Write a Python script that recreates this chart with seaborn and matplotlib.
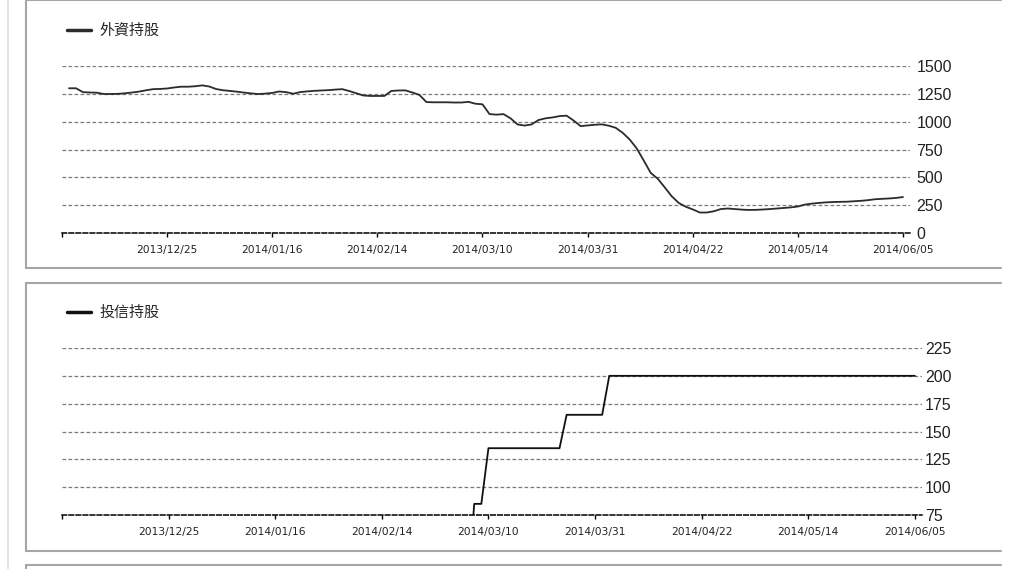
import numpy as np
import matplotlib
matplotlib.use("Agg")
import matplotlib.pyplot as plt
import seaborn as sns
from matplotlib.lines import Line2D

# trading-day index, ticks every 15 days
day_index = np.arange(121)
tick_pos = [0, 15, 30, 45, 60, 75, 90, 105, 120]
tick_labels = ["", "2013/12/25", "2014/01/16", "2014/02/14", "2014/03/10",
               "2014/03/31", "2014/04/22", "2014/05/14", "2014/06/05"]

# 外資持股 (starts one day later than the axis)
foreign_hold = [
    1300, 1300, 1265, 1262, 1260, 1248, 1249, 1250, 1255, 1262,
    1270, 1282, 1292, 1294, 1298, 1307, 1314, 1314, 1318, 1326,
    1316, 1293, 1282, 1276, 1269, 1261, 1254, 1248, 1252, 1258,
    1271, 1265, 1251, 1266, 1272, 1277, 1280, 1283, 1288, 1292,
    1275, 1255, 1235, 1231, 1231, 1231, 1276, 1280, 1281, 1262,
    1240, 1176, 1174, 1174, 1174, 1172, 1172, 1178, 1161, 1156,
    1068, 1063, 1068, 1030, 975, 965, 975, 1015, 1030, 1038,
    1050, 1054, 1010, 960, 966, 972, 976, 964, 945, 900,
    840, 760, 652, 540, 488, 410, 330, 270, 236, 212,
    184, 184, 195, 215, 220, 215, 210, 207, 208, 211,
    215, 220, 225, 230, 238, 255, 264, 270, 275, 278,
    280, 281, 285, 289, 295, 303, 307, 310, 315, 323,
]

# 投信持股 (zero before the first buy, below the visible range)
trust_hold = [0] * 58 + [85, 85] + [135] * 11 + [165] * 6 + [200] * 44

W, H = 1024, 569
sns.set_theme(style="white")
plt.rcParams["font.family"] = ["Noto Sans CJK TC", "DejaVu Sans"]

fig = plt.figure(figsize=(W / 100, H / 100), dpi=100)
fig.patch.set_facecolor("white")


def fig_line(x0, y0, x1, y1, color="#a6a6a6", lw=1.5):
    fig.add_artist(Line2D([x0 / W, x1 / W], [1 - y0 / H, 1 - y1 / H],
                          transform=fig.transFigure, color=color, lw=lw))


# page decorations: outer rule and panel frames
fig_line(8, 0, 8, H, color="#dddddd", lw=1.2)
for top, bottom in [(0, 268), (283, 551)]:
    fig_line(26, top, 26, bottom)
    fig_line(26, top, 1001, top)
    fig_line(26, bottom, 1001, bottom)
fig_line(26, 565, 26, H)
fig_line(26, 565, 1001, 565)


def style_axis(ax, ylim, yticks, legend_y, ypad):
    ax.set_xlim(0, 121)
    ax.set_ylim(*ylim)
    ax.set_xticks(tick_pos)
    ax.set_xticklabels(tick_labels, family="DejaVu Sans", fontsize=7.7, color="#222222")
    ax.set_yticks(yticks)
    ax.set_yticklabels([str(t) for t in yticks], family="Liberation Sans",
                       fontsize=11.5, color="#222222")
    ax.yaxis.tick_right()
    ax.tick_params(axis="y", length=0, pad=ypad)
    ax.tick_params(axis="x", length=3, width=1, color="black", direction="out",
                   pad=6, bottom=True)
    for side in ["top", "right", "left"]:
        ax.spines[side].set_visible(False)
    ax.spines["bottom"].set_linestyle((0, (3, 1.6)))
    ax.spines["bottom"].set_color("black")
    ax.spines["bottom"].set_linewidth(1.1)
    ax.grid(axis="y", color="#7a7a7a", linestyle=(0, (3, 1.8)), linewidth=0.9)
    ax.grid(axis="x", visible=False)
    ax.set_xlabel("")
    ax.set_ylabel("")
    ax.set_facecolor("none")
    ax.legend(loc="center left", bbox_to_anchor=(67 / W, 1 - legend_y / H),
              bbox_transform=fig.transFigure, frameon=False, borderpad=0,
              borderaxespad=0, handlelength=1.6, handletextpad=0.55,
              prop={"family": "Noto Sans CJK TC", "size": 10.8})


ax1 = fig.add_axes([62 / W, 1 - 233 / H, (910 - 62) / W, (233 - 66) / H])
sns.lineplot(x=day_index[1:], y=foreign_hold, ax=ax1, color="#2b2b2b",
             linewidth=1.3, label="外資持股")
style_axis(ax1, (0, 1500), [0, 250, 500, 750, 1000, 1250, 1500], 31, 4.5)
ax1.get_legend().get_lines()[0].set_linewidth(2.5)

ax2 = fig.add_axes([62 / W, 1 - 515 / H, (922 - 62) / W, (515 - 348) / H])
sns.lineplot(x=day_index, y=trust_hold, ax=ax2, color="#111111",
             linewidth=1.3, label="投信持股")
style_axis(ax2, (75, 225), [75, 100, 125, 150, 175, 200, 225], 313, 2)
ax2.get_legend().get_lines()[0].set_linewidth(2.5)

fig.savefig("out.png", dpi=100, facecolor="white")
